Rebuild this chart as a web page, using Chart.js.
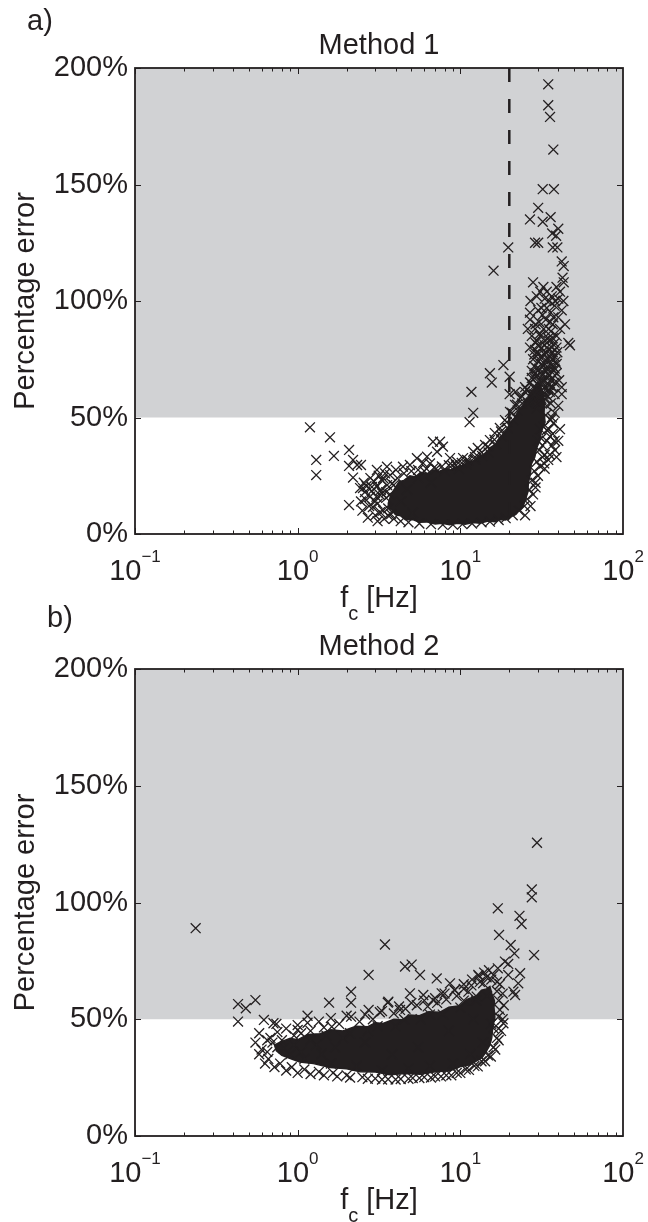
<!DOCTYPE html>
<html>
<head>
<meta charset="utf-8">
<title>Percentage error vs corner frequency</title>
<script src="https://cdn.jsdelivr.net/npm/chart.js@4.4.1/dist/chart.umd.min.js"></script>
<style>
  html, body { margin: 0; padding: 0; background: #fff; }
  #wrap { position: relative; width: 648px; height: 1222px; overflow: hidden; }
  canvas { position: absolute; left: 0; }
  #chartA { top: 0; }
  #chartB { top: 590px; }
</style>
</head>
<body>
<div id="wrap">
  <canvas id="chartA" width="648" height="640"></canvas>
  <canvas id="chartB" width="648" height="632"></canvas>
</div>
<script>
// axis ranges and tick labels
const xMin = 0.1, xMax = 100;
const xTickValues = [0.1, 1, 10, 100];
const xTickExponents = ['\u22121', '0', '1', '2'];
const yTickValues = [0, 50, 100, 150, 200];
const shadeFrom = 50;   // errors above this are shaded grey
const shadeTo = 200;
const cutoffA = 20;     // dashed line in Method 1 [Hz]

// Method 1: individual points [fc in Hz, error in %]
const method1Points = [
  // high tail
  [34.7,193],[34.7,184],[35.6,179],[37.3,165],[32.1,148],[37.6,148],[30.1,140],[26.8,135],[32.1,134],[35.9,136],
  [40.0,131],[38.8,128],[36.7,129],[37.0,123],[28.8,125],[30.1,125],[39.5,123],[19.7,123],[16.0,113],[42.0,117],
  [43.2,115],[42.5,110],[43.2,108],[28.0,108],[32.4,106],[34.0,104],[36.5,102],[38.2,100],[35.2,100],[29.5,102],
  [26.8,95],[30.1,96],[37.3,93],[40.0,93],[26.8,92],[35.6,91],[28.8,88],[30.9,86],[34.7,84],[39.1,85],
  [46.1,82],[47.2,81],[26.8,80],[28.8,79],[30.0,77],[38.2,76],[39.1,73],[30.1,74],[33.0,73],[18.4,72.5],
  [15.2,69],[15.6,65],[20.1,67.5],[11.7,61],[12.0,52],[11.4,48],[20.1,60],[21.8,61],[25.0,63],[26.8,65],
  [29.0,67.5],[31.0,69],[35.2,68],[39.1,69],[42.0,63],[42.0,60],[34.7,62],[34.0,44.6],[37.3,47.5],[35.6,41.8],
  [38.2,36],[34.7,31.8],[32.8,30.3],[27.5,70],[28.5,72],[29.5,83],[31.5,80],[32.5,88],[33.5,78],[33.5,92],
  [31.5,97],[27.5,85],[29.0,90],[36.0,87],[36.5,80],[37.0,72],[32.0,65],[30.0,62],[28.0,58],[33.0,58],
  [36.0,56],[38.0,60],[40.5,66],[40.0,55],[38.0,52],[36.5,50],[41.0,45],[40.0,40],[36.5,38],[39.0,33],
  [35.5,34],[29.0,22],[28.0,17],[27.0,12],[25.0,8],
  // right arm, 50-105 %
  [26.0,56],[27.0,60],[28.0,63],[29.0,57],[30.0,59],[31.0,61],[32.0,66],[33.0,63],[34.0,67],[35.0,64],
  [36.0,66],[37.0,63],[38.0,65],[27.5,67],[29.5,71],[31.5,73],[33.5,70],[35.5,73],[37.5,70],[39.5,78],
  [28.0,75],[30.0,78],[32.0,76],[34.0,80],[36.0,77],[38.0,82],[29.0,82],[31.0,85],[33.0,83],[35.0,88],
  [37.0,90],[30.5,91],[32.0,94],[34.0,97],[36.0,95],[38.0,98],[40.0,101],[41.0,104],[39.0,106],[33.0,101],
  [31.0,104],[27.0,100],[26.0,88],[42.0,96],[44.0,90],[41.0,88],[43.0,100],
  [29.5,54],[30.5,56],[31.5,58],[32.5,60],[33.5,62],[34.5,59],[35.5,61],[36.5,63],[28.5,60],[30.0,64],
  [31.0,66],[32.0,68],[33.0,66],[34.0,71],[35.0,68],[36.0,70],[37.0,67],[38.0,71],[29.0,69],[30.5,71],
  [32.5,72],[34.5,75],[36.5,75],[38.5,74],[31.0,76],[33.0,77],[35.0,79],[37.0,78],[28.5,77],[30.0,81],
  [33.0,81],[35.0,83],[37.0,84],[39.0,80],
  [31.0,45],[32.0,38],[33.0,34],[34.0,40],[35.0,45],[36.0,49],[37.0,43],[38.0,40],[30.0,40],[31.0,29],
  [32.0,33],[33.0,28],[30.0,25],[29.0,20],
  // low frequency side
  [1.19,45.8],[1.30,31.8],[1.30,25.3],[1.58,41.5],[1.67,33.5],[2.07,36.1],[2.19,31.8],[2.07,29.2],[2.32,29.6],[2.45,29.6],
  [2.19,24.2],[2.07,12.4],[2.42,19.7],[2.52,19.7],[3.07,27.5],[3.54,28.9],[2.59,18],[2.78,16],[3.07,20.3],[3.21,16.7],
  [2.90,11.6],[3.21,9.4],[4.44,28.9],[5.41,32.5],[6.24,33.2],[6.79,39.6],[7.5,39.6],[7.82,37.5],[7.19,35.3],[6.51,30.3],
  [9.54,31],[11.0,31.8],[12.0,35.3],
  [2.6,15],[2.75,12],[2.85,18.5],[3.0,8],[3.1,13],[3.25,19],[3.4,6.5],[3.5,15.5],[3.55,21],[3.75,8.5],
  [2.65,20.5],[2.95,22.5],[3.3,23],[2.5,10],[2.7,7],[3.1,5.5],[3.35,10],[3.6,11],[3.7,17],[3.45,26],
  [3.15,25],[2.8,24],[2.55,22],[2.45,14],[3.05,16],
  // upper edge of the dense cloud
  [2.86,20.2],[3.35,24],[3.7,25.3],[4.02,27.5],[4.9,29.6],[5.9,30.5],[8.64,32.6],[10.4,32.6],[12.8,36.9],[14.2,38.2],
  [15.2,40.3],[16.3,43.3],[17.5,45.5],[18.8,48.9],[20.2,52.4],[21.7,55.4],[23.3,58.4],[25.0,60.9],
  [3.5,18],[3.8,21.5],[4.1,24],[4.5,26],[5.0,27],[5.5,27.5],[6.2,28],[6.9,28.5],[7.7,29],[8.5,29.5],
  [9.4,29.5],[10.2,30.5],[11.2,31.5],[12.3,33],[13.5,35],[14.8,37.5],[16.2,40.5],[17.8,44],[19.3,48],[20.8,52],
  [22.3,55.5],[24.0,59],[25.5,62],[27.0,65],[28.5,67],
  [3.0,14],[3.3,17.5],[3.9,21],[4.3,14],[4.7,19],[5.5,24],[5.1,9],[6.0,27],[6.6,22],[7.1,28],
  [8.0,27],[8.9,29.5],[9.8,28],[10.9,30],[12.3,32],[13.6,33.5],[14.9,35],[16.5,38.5],[18.0,42],[19.5,45.5],
  [21.0,49],[22.5,53],[24.0,56],
  // lower edge of the dense cloud
  [3.6,8],[3.9,6.5],[4.3,5.5],[4.8,5],[5.6,4.5],[6.6,4.2],[7.8,4],[9.0,4],[10.3,4.2],[11.8,4.5],
  [13.5,5],[15.2,5.3],[17.2,6],[19.0,6.8],[21.0,8],[23.0,10],[24.8,12],[25.8,15],[26.6,19],[27.5,23],
  [28.5,27],[29.5,31],[30.5,36],[31.5,41],[32.5,46],[33.5,51],[34.0,55],[33.5,60]
];
// Method 1: outline of the region where the markers merge into solid ink
const method1Core = [
  [3.6,13],[3.75,17],[3.95,19.5],[4.2,22.5],[4.5,23],[4.9,25],[5.3,24.5],[5.7,26.5],[6.3,26],[6.8,27.5],
  [7.4,26.8],[8.1,28],[8.8,27.5],[9.6,29],[10.5,29.5],[11.4,31],[12.3,31.5],[13.2,33.5],[14.3,34.5],[15.2,37],
  [16.4,38.5],[17.5,41.5],[18.8,43.5],[20.2,47.5],[21.4,49.5],[22.6,52.5],[23.8,54],[25.0,57],[26.2,58.5],[27.3,61.5],
  [28.6,62.5],[29.8,65],[31.0,64],[32.0,61],[33.0,57],[32.7,52],[33.2,48],[31.5,44],[30.8,40],[29.5,37],
  [28.7,33],[27.3,30],[27.0,26],[26.2,22],[26.0,18],[25.2,15],[24.5,12.5],[23.2,10.5],[22.0,8.5],[20.5,7.5],
  [19.0,6],[17.6,6.2],[16.3,5.3],[14.8,5.6],[13.2,4.6],[12.0,4.9],[10.7,4.2],[9.6,4.6],[8.6,4.0],[7.7,4.6],
  [7.0,4.3],[6.2,5.2],[5.6,5.0],[5.1,6.2],[4.6,6.1],[4.3,7.8],[4.0,8.2],[3.8,10.2],[3.65,11]
];

// Method 2: individual points [fc in Hz, error in %]
const method2Points = [
  // outliers
  [0.236,89],[0.43,56.5],[0.48,54.7],[0.55,58.2],[0.43,49],[0.62,49.7],[0.71,48.3],[0.74,48],[1.15,51.5],[1.56,57.1],
  [2.13,61.8],[2.13,57.1],[2.13,51.1],[2.73,69],[3.44,82],[3.58,57.1],[2.73,54],[1.62,46.8],[1.0,45.4],[1.05,44],
  [29.6,125.6],[27.5,105.6],[27.5,102.2],[17.0,97.5],[23.1,94.3],[23.8,90.8],[17.3,86.1],[20.4,81.8],[21.5,78.2],[18.8,74.7],
  [19.7,73.7],[28.4,77.5],[17.0,71.8],[19.7,69],[23.3,69.7],[22.7,65.4],[21.2,61.8],[21.7,60.4],[12.9,69],[13.8,65.4],
  [4.57,72.6],[5.02,73.4],[5.65,69],[7.16,67.5],[8.64,65.4],[9.27,62.5],[4.9,61.1],[5.92,60.4],[6.79,58.2],[7.68,61.1],
  [3.61,57.5],[4.26,54],[11.2,61.8],[12.6,59.7],[17.2,51.1],[18.4,48.3],[16.0,46.1],
  // upper edge
  [0.58,44],[0.68,42],[0.8,41],[0.95,43],[1.2,45],[1.45,46.5],[1.8,48],[2.4,49],[2.9,50],[3.2,53],
  [3.9,52.5],[4.6,54.5],[5.4,56],[6.3,55.5],[7.2,57],[8.2,58.5],[9.5,60],[10.5,63],[11.7,64.5],[13.2,66],
  [14.5,68],[15.5,67],
  [0.65,41],[0.75,44.5],[0.85,46],[1.0,47.5],[1.15,48.5],[1.35,49],[1.6,50.5],[2.0,51.5],[2.6,52],[3.3,53.5],
  [4.2,55.5],[5.0,57],[6.0,58],[7.0,59],[8.0,61],[9.2,62.5],[10.5,65],[11.8,67],[13.0,68.5],[14.0,70],
  [15.0,71],[16.0,69],[16.8,66],
  // inside / texture
  [0.75,38],[0.9,35],[1.1,33],[1.3,39],[1.6,31],[1.9,42],[2.3,30],[2.7,45],[3.3,28],[4.0,47],
  [4.8,29],[5.7,50],[6.5,30],[7.8,52],[9.0,31],[10.0,55],[11.5,35],[12.5,58],[13.8,40],[14.6,60],
  [15.5,48],[0.65,36],[0.7,40],[0.82,37.5],[0.95,39],[1.05,36],[1.2,41],[1.4,35],[1.5,43],[1.7,38],
  [2.1,44],[2.6,40],[3.1,47],[3.8,35],[4.5,50],[5.5,38],[6.5,52],[8.5,45],[10.5,58],[12.0,50],
  // lower edge
  [0.6,37],[0.66,33],[0.78,31],[0.92,29.5],[1.1,28.5],[1.35,27.5],[1.65,27],[2.0,26],[2.5,25.2],[3.0,24.6],
  [3.6,24.3],[4.3,24.4],[5.1,24.8],[6.0,25.2],[7.0,25.5],[8.2,26],[9.5,27],[10.8,28.5],[12.2,30],[13.5,32],
  [14.8,34.5],[16.0,38],[16.8,42],[17.2,46],[17.5,54],[17.2,58],[16.8,62],
  [0.55,40],[0.58,35],[0.63,31],[0.72,29.5],[0.85,28],[1.0,27],[1.2,26.5],[1.45,26],[1.75,25.5],[2.1,25],
  [2.7,24.5],[3.3,24.2],[4.0,24.2],[4.8,24.5],[5.6,24.8],[6.6,25],[7.6,25.5],[8.8,26],[10.0,27],[11.3,28.3],
  [12.8,29.8],[14.2,32],[15.4,34],[16.4,37],[17.2,41],[17.8,45],[18.2,50],[18.5,56],[18.2,61],[17.5,65]
];
// Method 2: outline of the solid-ink region
const method2Core = [
  [0.72,39],[0.8,40.5],[0.9,41.8],[1.0,41.2],[1.15,43.5],[1.37,43.8],[1.6,45.5],[1.9,45],[2.28,47],[2.7,46.8],
  [3.0,48.5],[3.35,48.2],[3.9,50],[4.4,49.8],[4.9,51.8],[5.6,51.5],[6.4,53.2],[7.5,53],[8.5,55.2],[9.95,55.8],
  [11.0,58.5],[12.5,60],[13.5,62.5],[14.5,63],[15.2,64],[15.6,61],[16.2,58],[16.1,55],[16.3,51],[15.8,46],
  [15.6,42],[15.2,39],[14.4,36],[13.6,33.5],[12.6,32.2],[11.5,30.5],[10.1,29.8],[8.6,27.8],[7.2,27.6],[5.65,26.5],
  [4.6,26.8],[3.7,26.2],[3.0,27.4],[2.42,27.5],[2.0,28.8],[1.58,29.3],[1.25,31],[1.03,31.7],[0.9,33.2],[0.8,34.5],
  [0.74,36.5]
];

const INK = '#231f20';
const SHADE = '#d1d2d4';
const FONT = "'Liberation Sans', Arial, Helvetica, sans-serif";

function toXY(list) {
  return list.map(p => ({ x: p[0], y: p[1] }));
}

// matlab style box, inward ticks, 10^n labels and the text around each panel
const matlabFrame = {
  id: 'matlabFrame',
  afterDraw(chart, args, opts) {
    const { ctx, chartArea: a, scales: { x, y } } = chart;
    ctx.save();
    ctx.strokeStyle = INK;
    ctx.fillStyle = INK;

    // tick marks
    ctx.lineWidth = 1;
    ctx.beginPath();
    for (let d = -1; d <= 1; d++) {
      for (let m = 1; m <= 9; m++) {
        const px = Math.round(x.getPixelForValue(m * Math.pow(10, d))) + 0.5;
        const len = m === 1 ? 6 : 3.5;
        ctx.moveTo(px, a.bottom); ctx.lineTo(px, a.bottom - len);
        ctx.moveTo(px, a.top); ctx.lineTo(px, a.top + len);
      }
    }
    yTickValues.forEach(v => {
      const py = Math.round(y.getPixelForValue(v)) + 0.5;
      ctx.moveTo(a.left, py); ctx.lineTo(a.left + 6, py);
      ctx.moveTo(a.right, py); ctx.lineTo(a.right - 6, py);
    });
    ctx.stroke();

    // box
    ctx.lineWidth = 1.8;
    ctx.strokeRect(a.left, a.top, a.right - a.left, a.bottom - a.top);

    // x tick labels 10^n
    ctx.textBaseline = 'alphabetic';
    ctx.textAlign = 'left';
    xTickValues.forEach((v, i) => {
      const px = x.getPixelForValue(v);
      ctx.font = '29px ' + FONT;
      const w1 = ctx.measureText('10').width;
      ctx.font = '17px ' + FONT;
      const w2 = ctx.measureText(xTickExponents[i]).width;
      const start = px - (w1 + w2) / 2;
      ctx.font = '29px ' + FONT;
      ctx.fillText('10', start, a.bottom + 46);
      ctx.font = '17px ' + FONT;
      ctx.fillText(xTickExponents[i], start + w1, a.bottom + 28);
    });

    // x axis title: f_c [Hz]
    ctx.font = '29px ' + FONT;
    const wf = ctx.measureText('f').width;
    const wh = ctx.measureText(' [Hz]').width;
    ctx.font = '20px ' + FONT;
    const wc = ctx.measureText('c').width;
    const sx = (a.left + a.right) / 2 - (wf + wc + wh) / 2;
    const base = a.bottom + 73;
    ctx.font = '29px ' + FONT;
    ctx.fillText('f', sx, base);
    ctx.font = '20px ' + FONT;
    ctx.fillText('c', sx + wf, base + 13);
    ctx.font = '29px ' + FONT;
    ctx.fillText(' [Hz]', sx + wf + wc, base);

    // title and panel letter
    ctx.textAlign = 'center';
    ctx.fillText(opts.title, (a.left + a.right) / 2, a.top - 14);
    ctx.textAlign = 'left';
    ctx.fillText(opts.letter, opts.letterX, opts.letterY);

    // y axis title
    ctx.translate(34, (a.top + a.bottom) / 2);
    ctx.rotate(-Math.PI / 2);
    ctx.textAlign = 'center';
    ctx.fillText('Percentage error', 0, 0);
    ctx.restore();
  }
};

function makeChart(id, points, core, cutoff, frame, top, bottomSpace) {
  const datasets = [
    {
      label: 'points',
      data: toXY(points),
      showLine: false,
      pointStyle: 'crossRot',
      pointRadius: 7,
      pointBorderWidth: 1.3,
      pointBorderColor: INK,
      pointBackgroundColor: INK,
      order: 2
    },
    {
      label: 'dense',
      data: toXY(core.concat([core[0]])),
      showLine: true,
      fill: 'shape',
      backgroundColor: INK,
      borderColor: INK,
      borderWidth: 1.5,
      pointRadius: 0,
      order: 3
    },
    {
      label: 'shade',
      data: [{ x: xMin, y: shadeTo }, { x: xMax, y: shadeTo }],
      showLine: true,
      fill: { value: shadeFrom },
      backgroundColor: SHADE,
      borderColor: 'rgba(0,0,0,0)',
      borderWidth: 1,
      pointRadius: 0,
      order: 5
    }
  ];
  if (cutoff) {
    datasets.push({
      label: 'cutoff',
      data: [{ x: cutoff, y: shadeTo }, { x: cutoff, y: 0 }],
      showLine: true,
      fill: false,
      borderColor: INK,
      borderWidth: 2.5,
      borderDash: [14, 17],
      pointRadius: 0,
      order: 1
    });
  }

  return new Chart(document.getElementById(id), {
    type: 'scatter',
    data: { datasets: datasets },
    options: {
      responsive: false,
      animation: false,
      devicePixelRatio: 1,
      events: [],
      layout: { padding: { left: 0, right: 25, top: top, bottom: 0 } },
      scales: {
        x: {
          type: 'logarithmic',
          min: xMin,
          max: xMax,
          ticks: { display: false },
          grid: { display: false, drawTicks: false },
          border: { display: false },
          afterFit: s => { s.height = bottomSpace; }
        },
        y: {
          type: 'linear',
          min: 0,
          max: shadeTo,
          ticks: {
            stepSize: 50,
            padding: 7,
            color: INK,
            font: { family: FONT, size: 29 },
            callback: v => v + '%'
          },
          grid: { display: false, drawTicks: false },
          border: { display: false },
          afterFit: s => { s.width = 135; }
        }
      },
      plugins: {
        legend: { display: false },
        tooltip: { enabled: false },
        matlabFrame: frame
      }
    },
    plugins: [matlabFrame]
  });
}

// canvas A: plot box 68..534; canvas B starts at 590, plot box 669..1136 on the page
makeChart('chartA', method1Points, method1Core, cutoffA,
  { title: 'Method 1', letter: 'a)', letterX: 27, letterY: 30 }, 68, 106);
makeChart('chartB', method2Points, method2Core, null,
  { title: 'Method 2', letter: 'b)', letterX: 47, letterY: 37 }, 79, 86);
</script>
</body>
</html>
